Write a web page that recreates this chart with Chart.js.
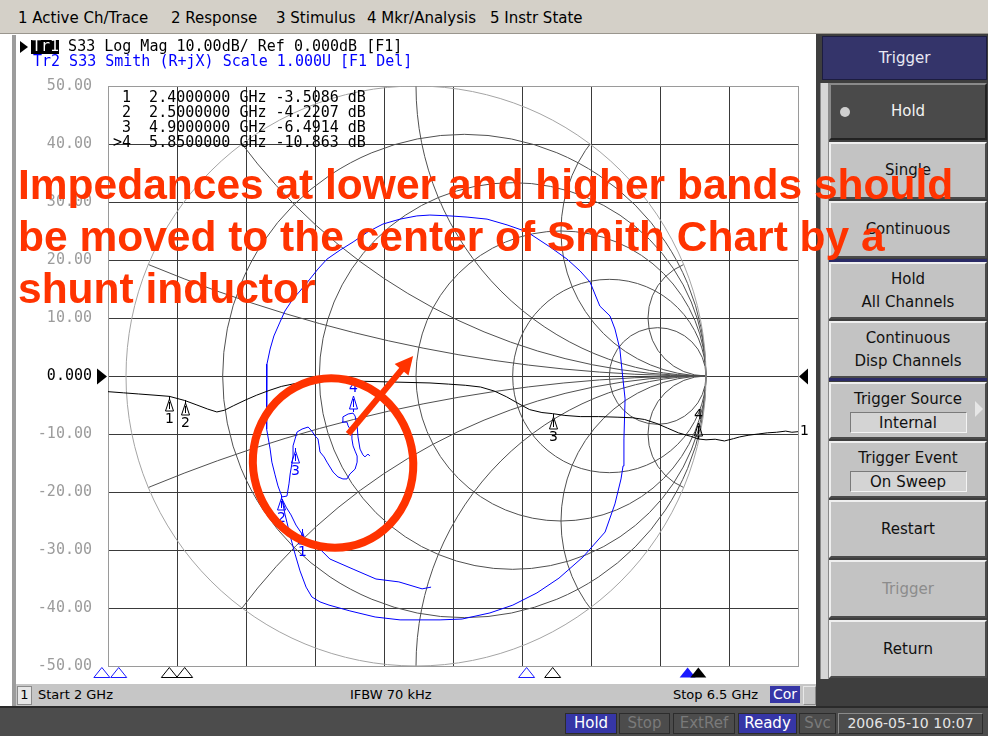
<!DOCTYPE html>
<html>
<head>
<meta charset="utf-8">
<title>S33 Log Mag / Smith</title>
<script src="https://cdn.jsdelivr.net/npm/chart.js@4.4.1/dist/chart.umd.min.js"></script>
<style>
  body { margin:0; width:988px; height:736px; position:relative; overflow:hidden; background:#fff; font-family:"DejaVu Sans", sans-serif; }
  .a { position:absolute; }
  #menu { left:0; top:0; width:988px; height:33px; background:#d4d0c8; border-bottom:1px solid #9a968e; }
  #menu span { position:absolute; top:9px; font-size:15px; line-height:18px; color:#000; white-space:nowrap; }
  #lbar { left:12px; top:35px; width:4px; height:672px; background:#9c9c9c; }
  #win { left:17px; top:37px; width:798px; height:646px; background:#fff; }
  #chs { left:16px; top:684px; width:802px; height:22px; background:#c6c6c6; font-size:13px; }
  #chs span { position:absolute; top:3px; line-height:16px; white-space:nowrap; }
  #bar { left:0; top:706px; width:988px; height:30px; background:#4c4c4c; border-top:2px solid #2a2a2a; box-sizing:border-box; }
  .st { position:absolute; top:5px; height:21px; box-sizing:border-box; border:1px solid #2c2c2c; font-size:15px; line-height:19px; text-align:center; color:#7a7a7a; }
  .st.on { background:#3636a6; color:#fff; }
  #panel { left:816px; top:34px; width:172px; height:672px; background:#3e3e3e; }
  #strip { left:820px; top:83px; width:7px; height:596px; background:#d6d6d6; border-left:1px solid #8a8a8a; border-right:1px solid #8a8a8a; }
  .sk { position:absolute; left:829px; width:158px; box-sizing:border-box; background:#c3c3c3; border:2px solid; border-color:#efefef #4a4a4a #4a4a4a #efefef; font-size:15px; color:#111; text-align:center; display:flex; flex-direction:column; justify-content:center; line-height:23px; }
  .sep { position:absolute; left:829px; width:158px; height:3px; background:#2a2a66; }
  .fld { margin:1px auto 0; width:117px; height:21px; line-height:20px; background:#d4d4d4; border:1px solid; border-color:#7a7a7a #f4f4f4 #f4f4f4 #7a7a7a; box-sizing:border-box; }
  #note { left:18px; top:159px; font-family:"Liberation Sans", Arial, sans-serif; font-weight:bold; font-size:42.5px; line-height:52px; color:#ff3300; white-space:pre; z-index:10; }
</style>
</head>
<body>
<div id="menu" class="a">
  <span style="left:18px">1 Active Ch/Trace</span>
  <span style="left:171px">2 Response</span>
  <span style="left:276px">3 Stimulus</span>
  <span style="left:367px">4 Mkr/Analysis</span>
  <span style="left:490px">5 Instr State</span>
</div>
<div id="lbar" class="a"></div>
<div id="win" class="a"><canvas id="vna" width="798" height="646"></canvas></div>
<div id="chs" class="a">
  <span style="left:1px;top:2px;width:13px;height:17px;background:#e6e6e6;border:1px solid #8a8a8a;text-align:center">1</span>
  <span style="left:22px">Start 2 GHz</span>
  <span style="left:334px">IFBW 70 kHz</span>
  <span style="left:657px">Stop 6.5 GHz</span>
  <span style="left:754px;top:2px;width:30px;height:17px;background:#3636a6;color:#fff;text-align:center;font-size:14px;line-height:17px">Cor</span>
  <span style="left:787px;top:2px;width:11px;height:17px;border:1px solid #e8e8e8;border-right-color:#8a8a8a;border-bottom-color:#8a8a8a"></span>
</div>
<div id="bar" class="a">
  <div class="st on" style="left:565px;width:52px">Hold</div>
  <div class="st" style="left:619px;width:51px">Stop</div>
  <div class="st" style="left:673px;width:62px">ExtRef</div>
  <div class="st on" style="left:738px;width:59px">Ready</div>
  <div class="st" style="left:799px;width:37px">Svc</div>
  <div class="st" style="left:838px;width:145px;color:#e4e4e4;font-size:14px;border-color:#8a8a8a #2c2c2c #2c2c2c #8a8a8a">2006-05-10 10:07</div>
</div>
<div id="panel" class="a"></div>
<div id="strip" class="a"></div>
<div class="a" style="left:822px;top:36px;width:165px;height:44px;background:#34346a;border:1px solid #1c1c40;box-sizing:border-box;color:#e8e8f4;font-size:15px;line-height:42px;text-align:center">Trigger</div>
<div class="sk" style="top:83px;height:57px;background:#4a4a4a;color:#f2f2f2;border-color:#8a8a8a #222 #222 #8a8a8a">Hold
  <span style="position:absolute;left:9px;top:22px;width:10px;height:10px;border-radius:5px;background:#cfcfcf"></span></div>
<div class="sk" style="top:142px;height:57px">Single</div>
<div class="sk" style="top:201px;height:57px">Continuous</div>
<div class="sep" style="top:259px"></div>
<div class="sk" style="top:262px;height:57px">Hold<br>All Channels</div>
<div class="sk" style="top:321px;height:57px">Continuous<br>Disp Channels</div>
<div class="sep" style="top:378px"></div>
<div class="sk" style="top:382px;height:57px">Trigger Source<div class="fld">Internal</div></div>
<div class="a" style="left:975px;top:401px;width:0;height:0;border-top:8px solid transparent;border-bottom:8px solid transparent;border-left:8px solid #e6e6e6"></div>
<div class="sk" style="top:441px;height:57px">Trigger Event<div class="fld">On Sweep</div></div>
<div class="sk" style="top:500px;height:58px">Restart</div>
<div class="sk" style="top:560px;height:58px;color:#8c8c8c">Trigger</div>
<div class="sk" style="top:620px;height:58px">Return</div>
<div id="note" class="a">Impedances at lower and higher bands should
be moved to the center of Smith Chart by a
shunt inductor</div>

<script>
// sweep and graticule
const startGHz = 2.0;
const stopGHz = 6.5;
const xDivisions = 10;
const yTickValues = [50, 40, 30, 20, 10, 0, -10, -20, -30, -40, -50];
const yTickLabels = ["50.00", "40.00", "30.00", "20.00", "10.00", "0.000", "-10.00", "-20.00", "-30.00", "-40.00", "-50.00"];

// Tr1: S33 log magnitude (dB) against frequency (GHz)
const tr1Freq = [2.00, 2.10, 2.20, 2.30, 2.40, 2.50, 2.58, 2.65, 2.71, 2.76, 2.82, 2.90, 2.97, 3.05, 3.13, 3.22,
  3.35, 3.50, 3.65, 3.80, 3.95, 4.10, 4.22, 4.33, 4.43, 4.52, 4.60, 4.68, 4.75, 4.83, 4.90, 4.98, 5.08, 5.20,
  5.32, 5.42, 5.50, 5.58, 5.65, 5.72, 5.80, 5.85, 5.90, 5.96, 6.02, 6.08, 6.12, 6.18, 6.24, 6.30, 6.36, 6.42, 6.46, 6.50];
const tr1Db = [-2.7, -2.9, -3.1, -3.3, -3.51, -4.22, -5.0, -5.7, -6.2, -5.9, -5.1, -4.1, -3.3, -2.5, -1.8, -1.3,
  -1.0, -0.9, -0.9, -1.0, -1.1, -1.2, -1.4, -1.6, -1.9, -2.6, -3.6, -4.8, -5.8, -6.3, -6.49, -6.8, -7.0, -7.0,
  -7.1, -7.2, -7.5, -8.2, -9.0, -9.8, -10.4, -10.86, -11.0, -10.9, -11.2, -10.8, -10.5, -10.2, -10.0, -9.8, -9.7, -9.5, -9.7, -9.6];

// Tr2: S33 on the Smith chart, reflection coefficient real / imaginary part
const tr2Re = [0.052, 0.021, -0.059, -0.138, -0.217, -0.297, -0.345, -0.362, -0.383, -0.393, -0.414, -0.431, -0.448, -0.462,
  -0.452, -0.441, -0.431, -0.417, -0.400, -0.379, -0.359, -0.331, -0.300, -0.228, -0.141, -0.055, 0.017, 0.083, 0.159,
  0.255, 0.334, 0.417, 0.493, 0.576, 0.652, 0.686, 0.707, 0.714, 0.717, 0.721, 0.710, 0.703, 0.686, 0.669, 0.634, 0.600,
  0.566, 0.521, 0.462, 0.383, 0.314, 0.245, 0.176, 0.117, 0.048, 0.003, -0.055, -0.114, -0.166, -0.217, -0.262, -0.307,
  -0.338, -0.366, -0.400, -0.424, -0.452, -0.469, -0.490, -0.503, -0.514, -0.514, -0.517, -0.514, -0.503, -0.497, -0.486,
  -0.476, -0.462, -0.445, -0.438, -0.434, -0.428, -0.424, -0.424, -0.417, -0.410, -0.393, -0.372, -0.359, -0.348, -0.338,
  -0.334, -0.331, -0.317, -0.307, -0.286, -0.269, -0.252, -0.238, -0.228, -0.210, -0.203, -0.203, -0.210, -0.217, -0.221,
  -0.221, -0.234, -0.238, -0.255, -0.252, -0.234, -0.217, -0.210, -0.203, -0.200, -0.193, -0.183, -0.176, -0.166, -0.159];
const tr2Im = [-0.728, -0.734, -0.710, -0.700, -0.666, -0.631, -0.583, -0.572, -0.562, -0.545, -0.514, -0.479, -0.452, -0.424,
  -0.476, -0.521, -0.562, -0.614, -0.672, -0.728, -0.762, -0.779, -0.790, -0.810, -0.831, -0.841, -0.841, -0.841, -0.838,
  -0.817, -0.790, -0.748, -0.697, -0.624, -0.538, -0.441, -0.355, -0.310, -0.217, -0.079, 0.024, 0.093, 0.162, 0.207, 0.241,
  0.324, 0.362, 0.403, 0.445, 0.497, 0.521, 0.541, 0.548, 0.552, 0.555, 0.552, 0.541, 0.524, 0.497, 0.462, 0.434, 0.403,
  0.369, 0.334, 0.293, 0.266, 0.224, 0.186, 0.138, 0.093, 0.041, -0.021, -0.079, -0.183, -0.252, -0.297, -0.341, -0.379,
  -0.417, -0.414, -0.372, -0.338, -0.303, -0.276, -0.241, -0.217, -0.193, -0.183, -0.176, -0.190, -0.207, -0.217, -0.241,
  -0.262, -0.279, -0.297, -0.331, -0.348, -0.355, -0.355, -0.338, -0.321, -0.297, -0.276, -0.259, -0.241, -0.217, -0.193,
  -0.172, -0.159, -0.159, -0.141, -0.131, -0.128, -0.138, -0.172, -0.210, -0.252, -0.272, -0.279, -0.269, -0.276];

// markers
const mkFreq = [2.4, 2.5, 4.9, 5.85];
const mkDb = [-3.5086, -4.2207, -6.4914, -10.863];
const mkSmithRe = [-0.393, -0.466, -0.417, -0.217];
const mkSmithIm = [-0.528, -0.410, -0.248, -0.124];
const tr2StimGHz = [1.96, 2.07, 4.73, 5.78];

// Smith chart grid values
const smithR = [0.2, 0.5, 1, 2, 5];
const smithX = [0.2, 0.5, 1, 2, 5];

// hand drawn note: ellipse and arrow, in reflection coefficient units
const noteEllipse = { re: -0.286, im: -0.300, rx: 0.276, ry: 0.293, tilt: -0.2 };
const noteArrow = { fromRe: -0.234, fromIm: -0.200, toRe: -0.010, toIm: 0.069 };

const mono = "15px 'DejaVu Sans Mono', monospace";

function marker(ctx, x, y, above, label) {
  ctx.beginPath();
  if (above) {
    ctx.moveTo(x, y); ctx.lineTo(x, y - 3);
    ctx.moveTo(x, y - 16); ctx.lineTo(x - 4, y - 3); ctx.lineTo(x + 4, y - 3); ctx.closePath();
    ctx.moveTo(x, y - 13); ctx.lineTo(x, y - 5);
  } else {
    ctx.moveTo(x, y); ctx.lineTo(x, y + 3);
    ctx.moveTo(x, y + 3); ctx.lineTo(x - 4, y + 15); ctx.lineTo(x + 4, y + 15); ctx.closePath();
    ctx.moveTo(x, y + 6); ctx.lineTo(x, y + 13);
  }
  ctx.stroke();
  ctx.fillText(label, x, above ? y - 24 : y + 23);
}

const vnaPlugin = {
  id: "vna",
  beforeDatasetsDraw(chart) {
    const { ctx, chartArea: a, scales } = chart;
    const sx = scales.x, sy = scales.y, gx = scales.gx, gy = scales.gy;
    ctx.save();
    ctx.lineWidth = 1;
    ctx.strokeStyle = "#3a3a3a";
    ctx.beginPath();
    for (let i = 1; i < xDivisions; i++) {
      const x = Math.round(sx.getPixelForValue(startGHz + i * (stopGHz - startGHz) / xDivisions)) + 0.5;
      ctx.moveTo(x, a.top); ctx.lineTo(x, a.bottom);
    }
    yTickValues.slice(1, -1).forEach(v => {
      const y = Math.round(sy.getPixelForValue(v)) + 0.5;
      ctx.moveTo(a.left, y); ctx.lineTo(a.right, y);
    });
    ctx.stroke();
    ctx.strokeStyle = "#9a9a9a";
    ctx.strokeRect(Math.round(a.left) + 0.5, Math.round(a.top) + 0.5, Math.round(a.right - a.left), Math.round(a.bottom - a.top));

    // Smith chart grid
    const cx = gx.getPixelForValue(0), cy = gy.getPixelForValue(0);
    const R = gx.getPixelForValue(1) - cx;
    ctx.beginPath(); ctx.rect(a.left, a.top, a.right - a.left, a.bottom - a.top); ctx.clip();
    ctx.strokeStyle = "#505050";
    smithR.forEach(r => {
      ctx.beginPath();
      ctx.arc(gx.getPixelForValue(r / (1 + r)), cy, R / (1 + r), 0, 2 * Math.PI);
      ctx.stroke();
    });
    ctx.save();
    ctx.beginPath(); ctx.arc(cx, cy, R, 0, 2 * Math.PI); ctx.clip();
    smithX.forEach(v => {
      [v, -v].forEach(x => {
        ctx.beginPath();
        ctx.arc(gx.getPixelForValue(1), gy.getPixelForValue(1 / x), R / v, 0, 2 * Math.PI);
        ctx.stroke();
      });
    });
    ctx.restore();
    ctx.strokeStyle = "#a4a4a4";
    ctx.beginPath(); ctx.arc(cx, cy, R, 0, 2 * Math.PI); ctx.stroke();
    ctx.restore();
  },
  afterDatasetsDraw(chart) {
    const { ctx, chartArea: a, scales } = chart;
    const sx = scales.x, sy = scales.y, gx = scales.gx, gy = scales.gy;
    const R = gx.getPixelForValue(1) - gx.getPixelForValue(0);
    ctx.save();

    // y tick labels and reference arrows
    ctx.font = mono;
    ctx.textAlign = "right";
    ctx.textBaseline = "middle";
    yTickValues.forEach((v, i) => {
      ctx.fillStyle = v === 0 ? "#000" : "#9c9c9c";
      ctx.fillText(yTickLabels[i], a.left - 16, sy.getPixelForValue(v));
    });
    const y0 = Math.round(sy.getPixelForValue(0)) + 0.5;
    ctx.fillStyle = "#000";
    ctx.beginPath();
    ctx.moveTo(a.left - 11, y0 - 8); ctx.lineTo(a.left - 1, y0); ctx.lineTo(a.left - 11, y0 + 8); ctx.closePath();
    ctx.moveTo(a.right + 10, y0 - 8); ctx.lineTo(a.right + 1, y0); ctx.lineTo(a.right + 10, y0 + 8); ctx.closePath();
    ctx.fill();

    // trace header lines
    ctx.textAlign = "left";
    ctx.beginPath(); ctx.moveTo(3, 4); ctx.lineTo(11, 10); ctx.lineTo(3, 16); ctx.closePath(); ctx.fill();
    ctx.fillRect(14, 3, 28, 14);
    ctx.fillText("    S33 Log Mag 10.00dB/ Ref 0.000dB [F1]", 15, 10);
    ctx.fillStyle = "#fff";
    ctx.fillText("Tr1", 15, 10);
    ctx.fillStyle = "#0000ff";
    ctx.fillText("Tr2 S33 Smith (R+jX) Scale 1.000U [F1 Del]", 16, 25);

    // marker table
    ctx.fillStyle = "#000";
    mkFreq.forEach((f, i) => {
      const line = (i === mkFreq.length - 1 ? ">" : " ") + (i + 1) + "  " + f.toFixed(7) + " GHz " + mkDb[i].toPrecision(5) + " dB";
      ctx.fillText(line, a.left + 5, a.top + 12 + 15 * i);
    });

    // Tr1 markers
    ctx.font = "14px 'DejaVu Sans', sans-serif";
    ctx.textAlign = "center";
    ctx.lineWidth = 1;
    ctx.strokeStyle = "#000";
    mkFreq.forEach((f, i) => {
      marker(ctx, Math.round(sx.getPixelForValue(f)) + 0.5, Math.round(sy.getPixelForValue(mkDb[i])), i === 3, String(i + 1));
    });
    ctx.textAlign = "left";
    ctx.fillText("1", a.right + 2, sy.getPixelForValue(tr1Db[tr1Db.length - 1]));

    // Tr2 markers
    ctx.textAlign = "center";
    ctx.strokeStyle = "#0000ff"; ctx.fillStyle = "#0000ff";
    mkSmithRe.forEach((re, i) => {
      marker(ctx, Math.round(gx.getPixelForValue(re)) + 0.5, Math.round(gy.getPixelForValue(mkSmithIm[i])), i === 3, String(i + 1));
    });

    // stimulus marker indicators under the graticule
    const ind = (f, color, filled) => {
      const x = sx.getPixelForValue(f), y = a.bottom + 1.5;
      ctx.beginPath();
      ctx.moveTo(x, y); ctx.lineTo(x - 8, y + 10); ctx.lineTo(x + 8, y + 10); ctx.closePath();
      ctx.strokeStyle = color; ctx.fillStyle = color;
      filled ? ctx.fill() : ctx.stroke();
    };
    tr2StimGHz.forEach((f, i) => ind(f, "#1a1aff", i === 3));
    mkFreq.forEach((f, i) => ind(f, "#000", i === 3));

    // hand drawn note
    ctx.strokeStyle = "#ff3300"; ctx.fillStyle = "#ff3300";
    ctx.lineWidth = 8;
    ctx.beginPath();
    ctx.ellipse(gx.getPixelForValue(noteEllipse.re), gy.getPixelForValue(noteEllipse.im), noteEllipse.rx * R, noteEllipse.ry * R, noteEllipse.tilt, 0, 2 * Math.PI);
    ctx.stroke();
    const x1 = gx.getPixelForValue(noteArrow.fromRe), y1 = gy.getPixelForValue(noteArrow.fromIm);
    const x2 = gx.getPixelForValue(noteArrow.toRe), y2 = gy.getPixelForValue(noteArrow.toIm);
    const ang = Math.atan2(y2 - y1, x2 - x1);
    ctx.lineWidth = 6;
    ctx.beginPath(); ctx.moveTo(x1, y1); ctx.lineTo(x2 - 14 * Math.cos(ang), y2 - 14 * Math.sin(ang)); ctx.stroke();
    ctx.beginPath();
    ctx.moveTo(x2, y2);
    ctx.lineTo(x2 - 18 * Math.cos(ang) + 9 * Math.sin(ang), y2 - 18 * Math.sin(ang) - 9 * Math.cos(ang));
    ctx.lineTo(x2 - 18 * Math.cos(ang) - 9 * Math.sin(ang), y2 - 18 * Math.sin(ang) + 9 * Math.cos(ang));
    ctx.closePath(); ctx.fill();
    ctx.restore();
  }
};

new Chart(document.getElementById("vna"), {
  type: "line",
  data: {
    datasets: [
      {
        label: "Tr1 S33 Log Mag",
        data: tr1Freq.map((f, i) => ({ x: f, y: tr1Db[i] })),
        xAxisID: "x", yAxisID: "y",
        borderColor: "#000000", borderWidth: 1, pointRadius: 0, tension: 0,
      },
      {
        label: "Tr2 S33 Smith",
        data: tr2Re.map((re, i) => ({ x: re, y: tr2Im[i] })),
        xAxisID: "gx", yAxisID: "gy",
        borderColor: "#0000ff", borderWidth: 1, pointRadius: 0, tension: 0,
      },
    ],
  },
  options: {
    responsive: false,
    animation: false,
    devicePixelRatio: 1,
    layout: { padding: { left: 91, right: 17, top: 49, bottom: 17 } },
    plugins: { legend: { display: false }, tooltip: { enabled: false } },
    scales: {
      x: { type: "linear", min: startGHz, max: stopGHz, display: false },
      y: { type: "linear", min: -50, max: 50, display: false },
      gx: { type: "linear", axis: "x", min: -1 - 18 / 290, max: 1 + 92 / 290, display: false },
      gy: { type: "linear", axis: "y", min: -1, max: 1, display: false },
    },
  },
  plugins: [vnaPlugin],
});
</script>
</body>
</html>
